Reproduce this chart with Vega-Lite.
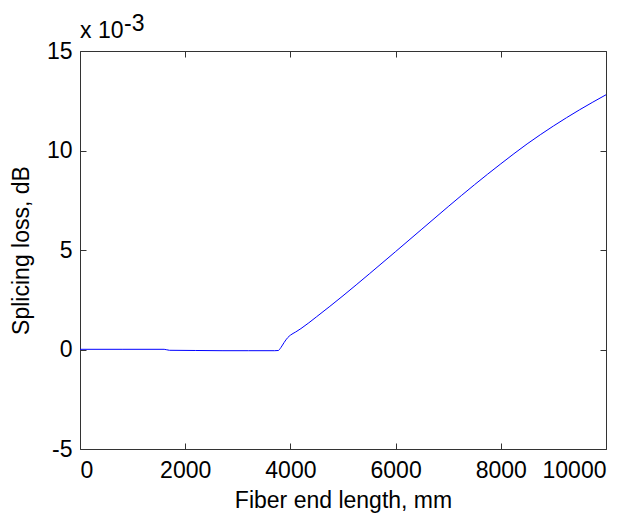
{
  "$schema": "https://vega.github.io/schema/vega-lite/v6.json",
  "width": 526,
  "height": 398,
  "autosize": {"type": "none"},
  "padding": {"left": 80, "top": 51, "right": 37, "bottom": 66},
  "background": "white",
  "config": {
    "view": {"stroke": "#333333", "strokeWidth": 1},
    "font": "Liberation Sans",
    "axis": {"grid": false, "domain": false, "labelFont": "Liberation Sans", "titleFont": "Liberation Sans", "labelColor": "#000000", "titleColor": "#000000", "titleFontWeight": "normal", "tickColor": "#333333"}
  },
  "datasets": {
    "curve": [
      {"length": 0, "loss": 0.00001},
      {"length": 800, "loss": 0.00001},
      {"length": 1600, "loss": 0.00001},
      {"length": 1700, "loss": -0.00004},
      {"length": 2200, "loss": -0.00005},
      {"length": 2700, "loss": -0.00006},
      {"length": 3200, "loss": -0.00006},
      {"length": 3700, "loss": -0.00006},
      {"length": 3770, "loss": -0.00005},
      {"length": 3820, "loss": 0.0001},
      {"length": 3880, "loss": 0.00035},
      {"length": 3950, "loss": 0.0006},
      {"length": 4000, "loss": 0.00072},
      {"length": 4100, "loss": 0.00088},
      {"length": 4200, "loss": 0.00105},
      {"length": 4500, "loss": 0.00165},
      {"length": 5000, "loss": 0.0027},
      {"length": 5500, "loss": 0.0038},
      {"length": 6000, "loss": 0.00492},
      {"length": 6500, "loss": 0.00605},
      {"length": 7000, "loss": 0.00718},
      {"length": 7500, "loss": 0.00828},
      {"length": 8000, "loss": 0.00933},
      {"length": 8500, "loss": 0.01033},
      {"length": 9000, "loss": 0.01123},
      {"length": 9500, "loss": 0.01205},
      {"length": 10000, "loss": 0.0128}
    ],
    "exponent": [{"base": "x 10", "power": "-3"}]
  },
  "layer": [
    {
      "data": {"name": "curve"},
      "mark": {"type": "line", "strokeOpacity": 0},
      "encoding": {
        "x": {"field": "length", "type": "quantitative", "scale": {"domain": [0, 10000], "nice": false},
          "axis": {"orient": "top", "labels": false, "title": null, "values": [0, 2000, 4000, 6000, 8000, 10000], "tickSize": -6}},
        "y": {"field": "loss", "type": "quantitative", "scale": {"domain": [-0.005, 0.015], "nice": false, "zero": false},
          "axis": {"orient": "right", "labels": false, "title": null, "values": [-0.005, 0, 0.005, 0.01, 0.015], "tickSize": -6}}
      }
    },
    {
      "data": {"name": "curve"},
      "mark": {"type": "line", "color": "#0000ff", "strokeWidth": 1, "interpolate": "monotone"},
      "encoding": {
        "x": {"field": "length", "type": "quantitative",
          "axis": {"orient": "bottom", "title": "Fiber end length, mm", "format": "d", "values": [0, 2000, 4000, 6000, 8000, 10000], "tickSize": -6, "labelPadding": 16, "labelFontSize": 23, "titleFontSize": 23, "titlePadding": 7}},
        "y": {"field": "loss", "type": "quantitative",
          "axis": {"orient": "left", "title": "Splicing loss, dB", "values": [-0.005, 0, 0.005, 0.01, 0.015], "labelExpr": "'' + round(datum.value * 1000)", "tickSize": -6, "labelPadding": 14, "labelFontSize": 23, "titleFontSize": 23, "titlePadding": 13}}
      }
    },
    {
      "data": {"name": "exponent"},
      "mark": {"type": "text", "align": "left", "baseline": "alphabetic", "fontSize": 23, "font": "Liberation Sans", "color": "#000000", "dy": -13},
      "encoding": {
        "x": {"datum": 0, "type": "quantitative", "axis": null},
        "y": {"datum": 0.015, "type": "quantitative", "axis": null},
        "text": {"field": "base"}
      }
    },
    {
      "data": {"name": "exponent"},
      "mark": {"type": "text", "align": "left", "baseline": "alphabetic", "fontSize": 23, "font": "Liberation Sans", "color": "#000000", "dx": 44, "dy": -20},
      "encoding": {
        "x": {"datum": 0, "type": "quantitative", "axis": null},
        "y": {"datum": 0.015, "type": "quantitative", "axis": null},
        "text": {"field": "power"}
      }
    }
  ],
  "resolve": {"axis": {"x": "independent", "y": "independent"}}
}
